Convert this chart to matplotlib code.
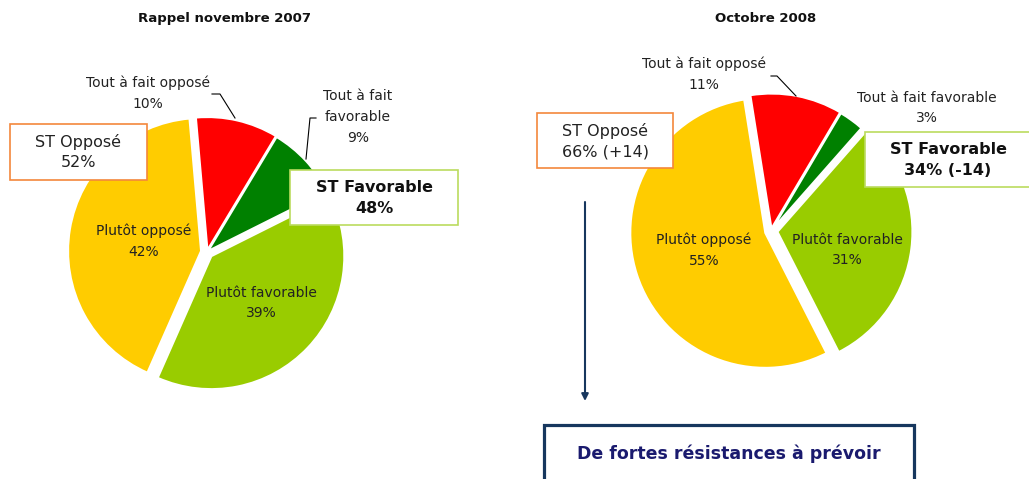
import matplotlib
matplotlib.use("Agg")
import matplotlib.pyplot as plt
from matplotlib.patches import Rectangle

plt.rcParams['font.family'] = ['DejaVu Sans']

# ---- data ----
categories = ["Tout à fait opposé", "Tout à fait favorable", "Plutôt favorable", "Plutôt opposé"]
colors = ["#FF0000", "#008000", "#99CC00", "#FFCC00"]
values_2007 = [10, 9, 39, 42]
values_2008 = [11, 3, 31, 55]
titles = ["Rappel novembre 2007", "Octobre 2008"]
st_oppose = [52, 66]
st_favorable = [48, 34]
delta = [None, 14]
conclusion = "De fortes résistances à prévoir"

W, H = 1029, 479
fig = plt.figure(figsize=(W / 100, H / 100), dpi=100)
ax = fig.add_axes([0, 0, 1, 1])

def Y(y):
    return H - y

txt = "#222222"
navy = "#17375E"

# ---- pies (explode offsets in pixels, since axes are in pixel units) ----
ax.pie(values_2007, colors=colors, startangle=95, counterclock=False,
       explode=[2, 1.5, 6, 6], center=(207, Y(252)), radius=133,
       wedgeprops=dict(edgecolor='white', linewidth=1.5), frame=True)
ax.pie(values_2008, colors=colors, startangle=99, counterclock=False,
       explode=[2.5, 2, 6.5, 6], center=(771, Y(231)), radius=135,
       wedgeprops=dict(edgecolor='white', linewidth=1.5), frame=True)

# ---- titles ----
ax.text(225, Y(18), titles[0], ha='center', va='center', fontsize=9.5, fontweight='bold', color='#111111')
ax.text(766, Y(18), titles[1], ha='center', va='center', fontsize=9.5, fontweight='bold', color='#111111')

fs = 10
ls = 1.6
# ---- left pie labels ----
ax.text(148, Y(93), f"{categories[0]}\n{values_2007[0]}%", ha='center', va='center', fontsize=fs, color=txt, linespacing=ls)
ax.plot([212, 220, 235], [Y(94), Y(94), Y(118)], color='black', lw=0.8)
ax.text(358, Y(117), f"Tout à fait\nfavorable\n{values_2007[1]}%", ha='center', va='center', fontsize=fs, color=txt, linespacing=ls)
ax.plot([316, 310, 306], [Y(118), Y(118), Y(159)], color='black', lw=0.8)
ax.text(144, Y(241), f"{categories[3]}\n{values_2007[3]}%", ha='center', va='center', fontsize=fs, color=txt, linespacing=ls)
ax.text(261, Y(303), f"{categories[2]}\n{values_2007[2]}%", ha='center', va='center', fontsize=fs, color=txt, linespacing=ls)

# ---- right pie labels ----
ax.text(704, Y(74), f"{categories[0]}\n{values_2008[0]}%", ha='center', va='center', fontsize=fs, color=txt, linespacing=ls)
ax.plot([771, 777, 796], [Y(76), Y(76), Y(96)], color='black', lw=0.8)
ax.text(927, Y(108), f"{categories[1]}\n{values_2008[1]}%", ha='center', va='center', fontsize=fs, color=txt, linespacing=ls)
ax.text(704, Y(250), f"{categories[3]}\n{values_2008[3]}%", ha='center', va='center', fontsize=fs, color=txt, linespacing=ls)
ax.text(847, Y(250), f"{categories[2]}\n{values_2008[2]}%", ha='center', va='center', fontsize=fs, color=txt, linespacing=ls)

# ---- summary boxes ----
orange = "#F4873C"
lgreen = "#BBDB5F"
def box(x0, y0, x1, y1, ec, lw=1.2):
    ax.add_patch(Rectangle((x0, Y(y1)), x1 - x0, y1 - y0, facecolor='white', edgecolor=ec, lw=lw, zorder=3, clip_on=False))

box(10, 124, 147, 180, orange)
ax.text(78, Y(152), f"ST Opposé\n{st_oppose[0]}%", ha='center', va='center', fontsize=11.5, color=txt, zorder=4, linespacing=1.45)
box(290, 170, 458, 225, lgreen)
ax.text(374, Y(198), f"ST Favorable\n{st_favorable[0]}%", ha='center', va='center', fontsize=11.5, fontweight='bold', color='#111111', zorder=4, linespacing=1.45)

box(537, 113, 673, 168, orange)
ax.text(605, Y(141), f"ST Opposé\n{st_oppose[1]}% (+{delta[1]})", ha='center', va='center', fontsize=11.5, color=txt, zorder=4, linespacing=1.45)
box(865, 132, 1040, 187, lgreen)
ax.text(948, Y(160), f"ST Favorable\n{st_favorable[1]}% (-{delta[1]})", ha='center', va='center', fontsize=11.5, fontweight='bold', color='#111111', zorder=4, linespacing=1.45)

# ---- arrow + conclusion ----
ax.annotate('', xy=(585, Y(401)), xytext=(585, Y(202)),
            arrowprops=dict(arrowstyle='-|>', color=navy, lw=1.5, mutation_scale=10, shrinkA=0, shrinkB=0))
box(544, 425, 914, 500, navy, lw=2.3)
ax.text(729, Y(454), conclusion, ha='center', va='center', fontsize=12.5, fontweight='bold', color='#1A1A6E', zorder=4)

ax.set_xlim(0, W)
ax.set_ylim(0, H)
ax.set_aspect('auto')
ax.axis('off')
fig.savefig('out.png', dpi=100, facecolor='white')
